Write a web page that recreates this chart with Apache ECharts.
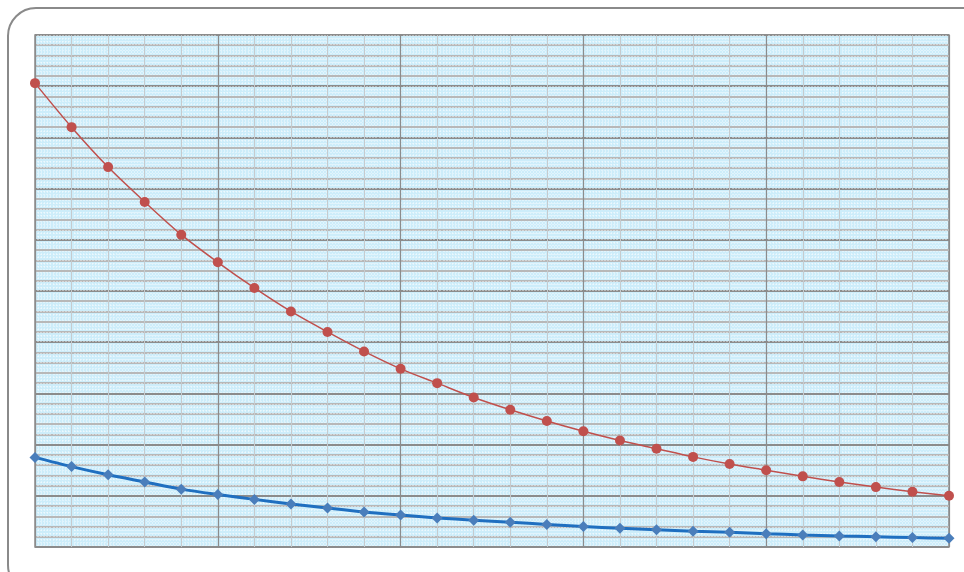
<!DOCTYPE html>
<html>
<head>
<meta charset="utf-8">
<script src="https://cdn.jsdelivr.net/npm/echarts@6/dist/echarts.min.js"></script>
<style>
  html, body { margin: 0; padding: 0; background: #fff; }
  #chart { width: 964px; height: 572px; }
</style>
</head>
<body>
<div id="chart"></div>
<script>
// readings, one per step 0..25
const redValues = [45.3, 41.0, 37.1, 33.7, 30.5, 27.8, 25.3, 23.0, 21.0, 19.1,
  17.4, 16.0, 14.6, 13.4, 12.3, 11.3, 10.4, 9.6, 8.8, 8.1,
  7.5, 6.9, 6.35, 5.85, 5.4, 5.0]
const blueValues = [8.75, 7.85, 7.05, 6.35, 5.65, 5.12, 4.65, 4.2, 3.8, 3.42,
  3.12, 2.84, 2.62, 2.42, 2.2, 2.0, 1.82, 1.68, 1.55, 1.43,
  1.3, 1.18, 1.08, 1.0, 0.92, 0.85]

const toPairs = (vals) => vals.map((v, i) => [i, v])

const chart = echarts.init(document.getElementById('chart'))

const hiddenAxis = {
  axisLine: { show: false },
  axisTick: { show: false },
  axisLabel: { show: false }
}

chart.setOption({
  animation: false,
  graphic: [{
    type: 'rect',
    shape: { x: 8, y: 8, width: 985, height: 585, r: 28 },
    style: { fill: 'none', stroke: '#8a8a8a', lineWidth: 2 },
    z: -1
  }],
  grid: {
    left: 35, right: 15, top: 35, bottom: 25,
    show: true,
    backgroundColor: '#cdedfa',
    borderColor: '#8c8c8c',
    borderWidth: 1.5
  },
  xAxis: [
    {
      type: 'value', min: 0, max: 25, interval: 1, ...hiddenAxis,
      splitLine: { show: true, lineStyle: { color: '#c6cbce', width: 1 } },
      minorTick: { show: false, splitNumber: 12 },
      minorSplitLine: { show: true, lineStyle: { color: '#ffffff', opacity: 0.55, width: 1.5, type: [1, 2] } }
    },
    {
      type: 'value', min: 0, max: 25, interval: 5, position: 'top', ...hiddenAxis,
      splitLine: { show: true, lineStyle: { color: '#8c8c8c', width: 1.2 } }
    }
  ],
  yAxis: [
    {
      type: 'value', min: 0, max: 50, interval: 1, ...hiddenAxis,
      splitLine: { show: true, lineStyle: { color: '#b8b8b8', width: 2 } },
      minorTick: { show: false, splitNumber: 3 },
      minorSplitLine: { show: true, lineStyle: { color: '#ffffff', opacity: 0.55, width: 1.5, type: [1, 2] } }
    },
    {
      type: 'value', min: 0, max: 50, interval: 5, position: 'right', ...hiddenAxis,
      splitLine: { show: true, lineStyle: { color: '#8c8c8c', width: 2 } }
    }
  ],
  series: [
    {
      type: 'line',
      data: toPairs(redValues),
      smooth: 0.3,
      symbol: 'circle',
      symbolSize: 10,
      lineStyle: { color: '#c0504d', width: 1.5 },
      itemStyle: { color: '#c0504d' },
      z: 5
    },
    {
      type: 'line',
      data: toPairs(blueValues),
      smooth: 0.3,
      symbol: 'diamond',
      symbolSize: 11,
      lineStyle: { color: '#1f6fc0', width: 3 },
      itemStyle: { color: '#4a7ebb' },
      z: 5
    }
  ]
})
</script>
</body>
</html>
